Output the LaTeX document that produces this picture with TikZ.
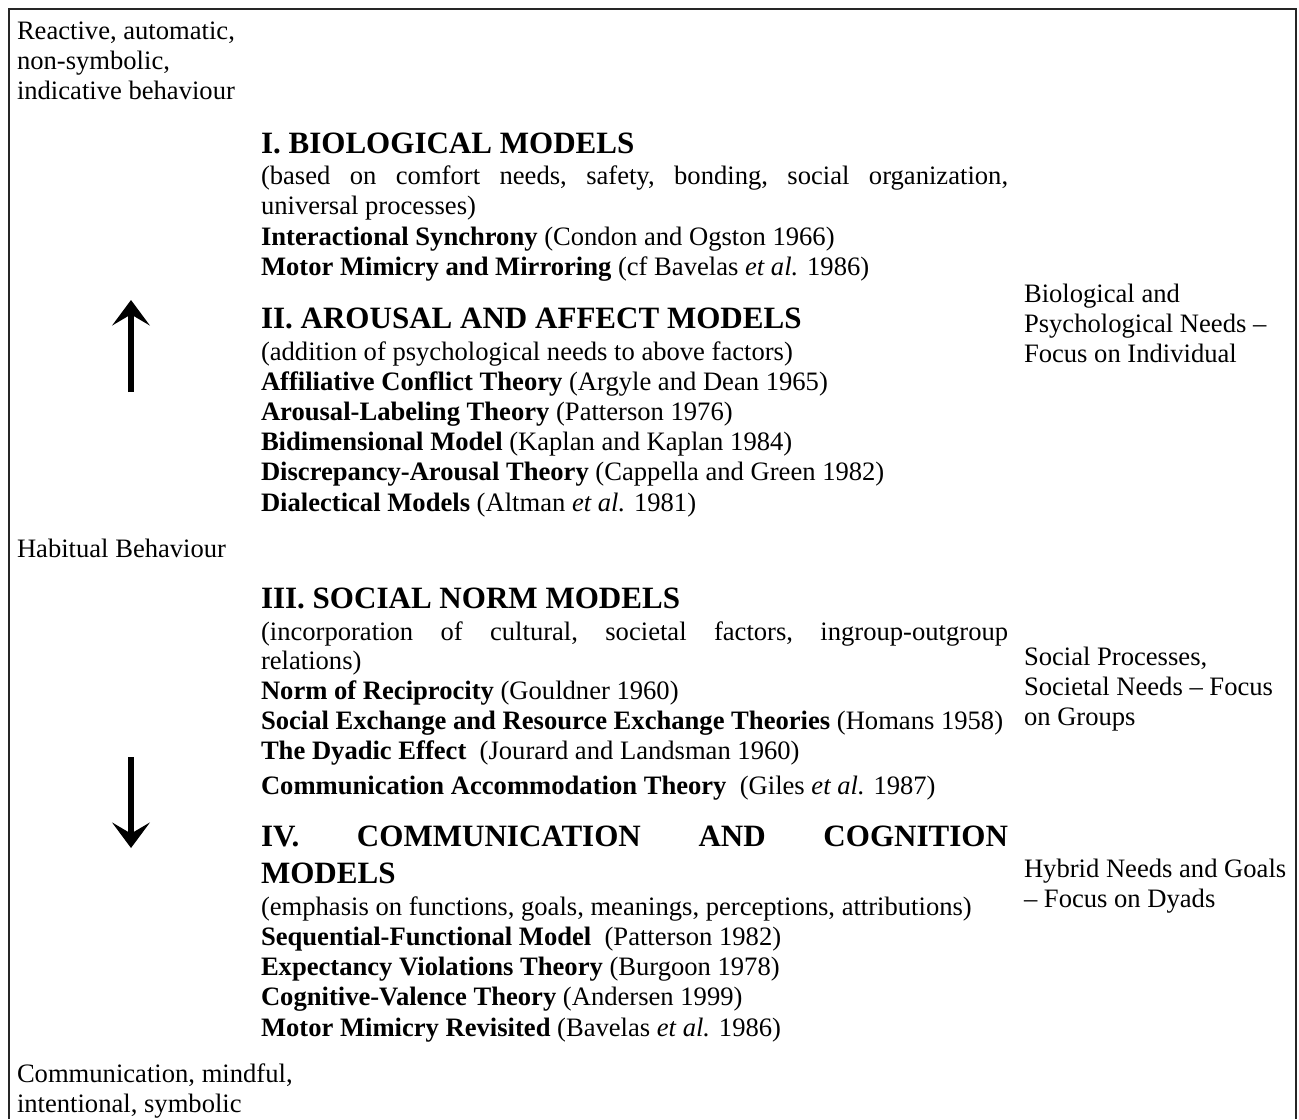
\documentclass[tikz,border=0pt]{standalone}
\usepackage{fontspec}
\setmainfont{Liberation Serif}
\usetikzlibrary{arrows.meta}
% width of the justified main column
\newlength\colwd
\setlength\colwd{337pt}
\newcommand\justline[1]{\hbox to \colwd{#1}}
\begin{document}
\begin{tikzpicture}[x=0.4511pt,y=-0.4511pt,
  txt/.style={anchor=base west,inner sep=0pt,outer sep=0pt,font=\fontsize{12}{13.5}\selectfont},
  head/.style={txt,font=\fontsize{14}{16}\selectfont\bfseries},
  frameline/.style={line width=0.9pt,draw=black!85},
  bigarrow/.style={line width=2.3pt,-{Stealth[length=11.5pt,width=17pt,inset=5pt]}}]
\useasboundingbox (0,0) rectangle (1299,1119);

% open frame (top, left and right sides)
\draw[frameline] (9,1119) -- (9,9) -- (1296,9) -- (1296,1119);

% left column: behaviour scale
\node[txt] (r1) at (17,39) {Reactive, automatic,};
\node[txt] (r2) at (17,69) {non-symbolic,};
\node[txt] (r3) at (17,99) {indicative behaviour};
\node[txt] (hab) at (17,557) {Habitual Behaviour};
\node[txt] (c1) at (17,1082) {Communication, mindful,};
\node[txt] (c2) at (17,1112) {intentional, symbolic};

% arrows
\coordinate (upbot) at (131,392);
\coordinate (uptop) at (131,300);
\coordinate (dntop) at (131,757);
\coordinate (dnbot) at (131,848);
\draw[bigarrow] (upbot) -- (uptop);
\draw[bigarrow] (dntop) -- (dnbot);

% I. Biological models
\node[head] (h1) at (261,153) {I. BIOLOGICAL MODELS};
\node[txt] (a1) at (261,184) {\justline{(based\hfill on\hfill comfort\hfill needs,\hfill safety,\hfill bonding,\hfill social\hfill organization,}};
\node[txt] (a2) at (261,214) {universal processes)};
\node[txt] (a3) at (261,245) {\textbf{Interactional Synchrony} (Condon and Ogston 1966)};
\node[txt] (a4) at (261,275) {\textbf{Motor Mimicry and Mirroring} (cf Bavelas \textit{et al.} 1986)};

% II. Arousal and affect models
\node[head] (h2) at (261,328) {II. AROUSAL AND AFFECT MODELS};
\node[txt] (b1) at (261,360) {(addition of psychological needs to above factors)};
\node[txt] (b2) at (261,390) {\textbf{Affiliative Conflict Theory} (Argyle and Dean 1965)};
\node[txt] (b3) at (261,420) {\textbf{Arousal-Labeling Theory} (Patterson 1976)};
\node[txt] (b4) at (261,450) {\textbf{Bidimensional Model} (Kaplan and Kaplan 1984)};
\node[txt] (b5) at (261,480) {\textbf{Discrepancy-Arousal Theory} (Cappella and Green 1982)};
\node[txt] (b6) at (261,511) {\textbf{Dialectical Models} (Altman \textit{et al.} 1981)};

% III. Social norm models
\node[head] (h3) at (261,608) {III. SOCIAL NORM MODELS};
\node[txt] (s1) at (261,640) {\justline{(incorporation\hfill of\hfill cultural,\hfill societal\hfill factors,\hfill ingroup-outgroup}};
\node[txt] (s2) at (261,669) {relations)};
\node[txt] (s3) at (261,699) {\textbf{Norm of Reciprocity} (Gouldner 1960)};
\node[txt] (s4) at (261,729) {\textbf{Social Exchange and Resource Exchange Theories} (Homans 1958)};
\node[txt] (s5) at (261,759) {\textbf{The Dyadic Effect}\ \ (Jourard and Landsman 1960)};
\node[txt] (s6) at (261,794) {\textbf{Communication Accommodation Theory}\ \ (Giles \textit{et al.} 1987)};

% IV. Communication and cognition models
\node[head] (h4) at (261,846) {\justline{IV.\hfill COMMUNICATION\hfill AND\hfill COGNITION}};
\node[head] (h4b) at (261,883) {MODELS};
\node[txt] (m1) at (261,915) {(emphasis on functions, goals, meanings, perceptions, attributions)};
\node[txt] (m2) at (261,945) {\textbf{Sequential-Functional Model}\ \ (Patterson 1982)};
\node[txt] (m3) at (261,975) {\textbf{Expectancy Violations Theory} (Burgoon 1978)};
\node[txt] (m4) at (261,1005) {\textbf{Cognitive-Valence Theory} (Andersen 1999)};
\node[txt] (m5) at (261,1036) {\textbf{Motor Mimicry Revisited} (Bavelas \textit{et al.} 1986)};

% right column: focus of each group of models
\node[txt] (f1) at (1024,302) {Biological and};
\node[txt] (f2) at (1024,332) {Psychological Needs --};
\node[txt] (f3) at (1024,362) {Focus on Individual};
\node[txt] (g1) at (1024,665) {Social Processes,};
\node[txt] (g2) at (1024,695) {Societal Needs -- Focus};
\node[txt] (g3) at (1024,725) {on Groups};
\node[txt] (d1) at (1024,877) {Hybrid Needs and Goals};
\node[txt] (d2) at (1024,907) {-- Focus on Dyads};
\end{tikzpicture}
\end{document}
